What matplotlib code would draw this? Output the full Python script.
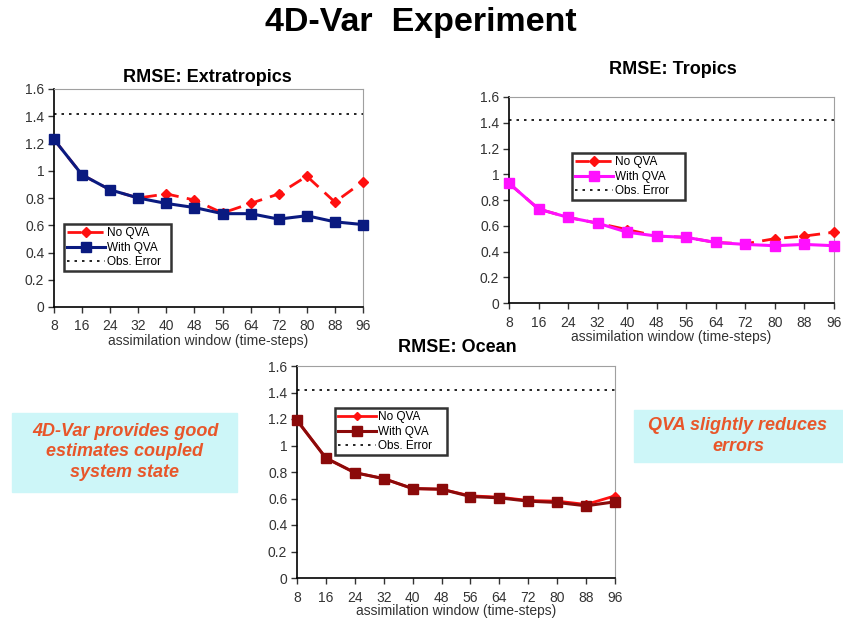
import matplotlib
matplotlib.use('Agg')
import matplotlib.pyplot as plt
from matplotlib.patches import Rectangle
from matplotlib.ticker import FuncFormatter

plt.rcParams['font.family'] = ['Liberation Sans', 'DejaVu Sans']

# Assimilation window (time-steps)
windows = [8, 16, 24, 32, 40, 48, 56, 64, 72, 80, 88, 96]
obs_error = 1.42

# RMSE values
extra_no_qva = [1.23, 0.97, 0.86, 0.80, 0.83, 0.785, 0.69, 0.76, 0.83, 0.96, 0.77, 0.92]
extra_with_qva = [1.23, 0.97, 0.86, 0.80, 0.76, 0.73, 0.685, 0.685, 0.645, 0.67, 0.625, 0.605]

trop_no_qva = [0.93, 0.73, 0.665, 0.62, 0.57, 0.52, 0.51, 0.47, 0.46, 0.50, 0.52, 0.55]
trop_with_qva = [0.93, 0.73, 0.665, 0.62, 0.55, 0.52, 0.51, 0.47, 0.455, 0.445, 0.455, 0.445]

ocean_no_qva = [1.19, 0.905, 0.795, 0.75, 0.675, 0.67, 0.62, 0.61, 0.585, 0.58, 0.555, 0.62]
ocean_with_qva = [1.19, 0.905, 0.795, 0.75, 0.675, 0.67, 0.615, 0.605, 0.58, 0.57, 0.545, 0.575]

W, H = 843, 623
fig = plt.figure(figsize=(W / 100, H / 100), dpi=100)


def px_rect(x0, y0, x1, y1):
    """Convert a pixel box (top-left origin) into figure fractions."""
    return [x0 / W, 1 - y1 / H, (x1 - x0) / W, (y1 - y0) / H]


def rmse_panel(rect, title, title_xy, no_qva, with_qva, no_style, with_color, legend_box):
    ax = fig.add_axes(px_rect(*rect))
    ln1, = ax.plot(windows, no_qva, clip_on=False, zorder=3, **no_style)
    ln2, = ax.plot(windows, with_qva, color=with_color, lw=2.2, marker='s', ms=7.5,
                   label='With QVA', clip_on=False, zorder=4)
    ln3 = ax.axhline(obs_error, color='black', lw=1.2, ls=(0, (1.5, 3)), label='Obs. Error')

    ax.set_xlim(8, 96)
    ax.set_ylim(0, 1.6)
    ax.set_xticks(windows)
    ax.set_yticks([0, 0.2, 0.4, 0.6, 0.8, 1.0, 1.2, 1.4, 1.6])
    ax.yaxis.set_major_formatter(FuncFormatter(lambda v, p: f'{v:g}'))
    ax.tick_params(labelsize=10, colors='#333333', length=4, width=1, pad=3)
    ax.tick_params(axis='x', pad=5)
    for side in ['top', 'right']:
        ax.spines[side].set_color('#a0a0a0')
        ax.spines[side].set_linewidth(0.8)
    for side in ['left', 'bottom']:
        ax.spines[side].set_color('black')
        ax.spines[side].set_linewidth(1.2)
    ax.set_xlabel('assimilation window (time-steps)', fontsize=10, color='#333333', labelpad=0)
    fig.text(title_xy[0] / W, 1 - title_xy[1] / H, title, fontsize=13, fontweight='bold',
             ha='center', va='center')

    # legend placed by its pixel box
    leg = fig.legend(handles=[ln1, ln2, ln3], loc='lower left',
                     bbox_to_anchor=px_rect(*legend_box), mode='expand',
                     fontsize=8.5, frameon=True, fancybox=False, borderpad=0.25,
                     labelspacing=0.2, handlelength=3.2, handletextpad=0.2,
                     borderaxespad=0)
    leg.get_frame().set_edgecolor('black')
    leg.get_frame().set_linewidth(1.8)
    return ax


red_dashed = dict(color='#ff1010', lw=2, ls=(0, (5, 3)), marker='D', ms=5, label='No QVA')
red_solid = dict(color='#ff1010', lw=2, marker='D', ms=4, label='No QVA')

rmse_panel((54, 89, 363, 307), 'RMSE: Extratropics', (207, 78), extra_no_qva, extra_with_qva,
           red_dashed, '#0a1a80', (64, 218, 171, 271))
rmse_panel((509, 97, 834, 303), 'RMSE: Tropics', (673, 70), trop_no_qva, trop_with_qva,
           red_dashed, '#ff10ff', (572, 150, 685, 200))
rmse_panel((297, 366, 615, 578), 'RMSE: Ocean', (457, 348), ocean_no_qva, ocean_with_qva,
           red_solid, '#8b0a0a', (335, 403, 447, 455))

fig.text(421 / W, 1 - 23 / H, '4D-Var  Experiment', fontsize=24.5, fontweight='bold',
         ha='center', va='center')

# note boxes
box_color = '#cdf6f8'
note_color = '#e8562a'
fig.patches.append(Rectangle((12 / W, 1 - 492 / H), 225 / W, 79 / H,
                             transform=fig.transFigure, color=box_color, zorder=0))
fig.text(125 / W, 1 - 452 / H, '4D-Var provides good\nestimates coupled\nsystem state',
         fontsize=13, fontweight='bold', fontstyle='italic', color=note_color,
         ha='center', va='center', linespacing=1.25)
fig.patches.append(Rectangle((634 / W, 1 - 462 / H), 209 / W, 52 / H,
                             transform=fig.transFigure, color=box_color, zorder=0))
fig.text(738 / W, 1 - 436 / H, 'QVA slightly reduces\nerrors',
         fontsize=13, fontweight='bold', fontstyle='italic', color=note_color,
         ha='center', va='center', linespacing=1.25)

fig.savefig('out.png', dpi=100)
